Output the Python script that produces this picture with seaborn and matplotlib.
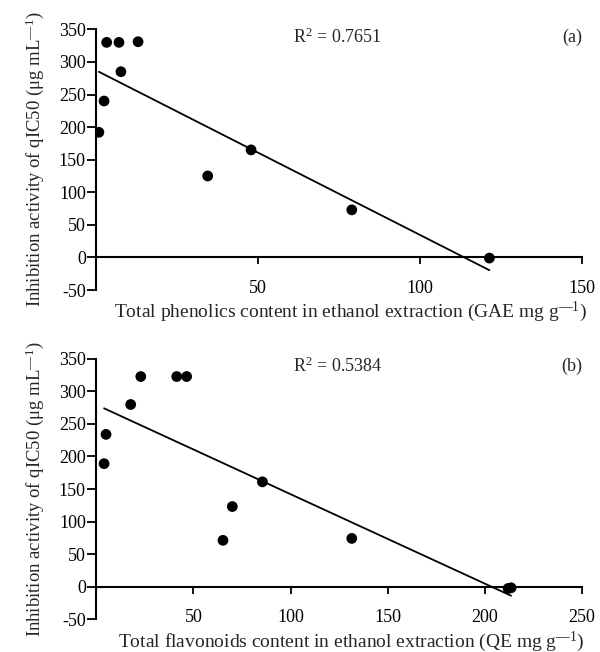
import matplotlib
matplotlib.use("Agg")
import matplotlib.pyplot as plt
import seaborn as sns
import pandas as pd

# ---- data ----
phen_x = [0.8, 2.4, 3.2, 7.0, 7.6, 12.9, 34.4, 47.8, 78.9, 121.4]
phen_y = [192, 240, 330, 330, 285, 331, 125, 165, 73, -1]
flav_x = [4.0, 5.0, 17.7, 22.9, 41.4, 46.5, 65.2, 70.0, 85.5, 131.5, 212.0, 213.5]
flav_y = [189, 234, 280, 323, 323, 323, 71, 123, 161, 74, -3, -2]

y_ticks = [-50, 0, 50, 100, 150, 200, 250, 300, 350]
top_xticks = [50, 100, 150]
bot_xticks = [50, 100, 150, 200, 250]
r2_labels = ["R$^2$ = 0.7651", "R$^2$ = 0.5384"]
panel_labels = ["(a)", "(b)"]
xlabels = ["Total phenolics content in ethanol extraction (GAE mg g$^{\u2014 1}$)",
           "Total flavonoids content in ethanol extraction (QE mg g$^{\u2014 1}$)"]
ylabel = "Inhibition activity of qIC50 (\u03bcg mL$^{\u2014 1}$)"

sns.set_style("ticks")
plt.rcParams["font.family"] = ["Liberation Serif", "DejaVu Serif"]
plt.rcParams["mathtext.fontset"] = "custom"
plt.rcParams["mathtext.rm"] = "Liberation Serif"
plt.rcParams["mathtext.it"] = "Liberation Serif"

fig = plt.figure(figsize=(6, 6.52), dpi=100)
ax1 = fig.add_axes([0.1605, 0.5552, 0.8095, 0.3998])
ax2 = fig.add_axes([0.1605, 0.0506, 0.8095, 0.3988])

panels = [
    (ax1, pd.DataFrame({"x": phen_x, "y": phen_y}), (0, 150), top_xticks),
    (ax2, pd.DataFrame({"x": flav_x, "y": flav_y}), (0, 250), bot_xticks),
]

FS_TICK = 13
FS_LABEL = 13.5

for i, (ax, df, xlim, xt) in enumerate(panels):
    sns.regplot(data=df, x="x", y="y", ax=ax, ci=None, truncate=True,
                scatter_kws=dict(s=60, color="black", alpha=1,
                                 edgecolors="none", zorder=3),
                line_kws=dict(color="black", lw=1.3, zorder=2))
    ax.set_xlim(*xlim)
    ax.set_ylim(-50, 350)
    ax.set_yticks(y_ticks)
    ax.set_yticklabels([str(v) for v in y_ticks])
    ax.set_xticks(xt)
    ax.set_xticklabels([str(v) for v in xt])
    for s in ["top", "right"]:
        ax.spines[s].set_visible(False)
    ax.spines["bottom"].set_position(("data", 0))
    for s in ["left", "bottom"]:
        ax.spines[s].set_linewidth(1.5)
        ax.spines[s].set_color("black")
    ax.tick_params(axis="y", direction="out", length=6.5, width=1.3,
                   labelsize=FS_TICK, pad=1, colors="black")
    ax.tick_params(axis="x", direction="out", length=5, width=1.3,
                   labelsize=FS_TICK, pad=11, colors="black")
    ax.set_xlabel(xlabels[i], fontsize=FS_LABEL + 0.5, labelpad=2.5, x=0.524)
    ax.set_ylabel(ylabel, fontsize=FS_LABEL, labelpad=9)
    ax.text(0.405, 0.97, r2_labels[i], transform=ax.transAxes,
            fontsize=FS_TICK, ha="left", va="center")
    ax.text(1.0, 0.97, panel_labels[i], transform=ax.transAxes,
            fontsize=FS_TICK, ha="right", va="center")

fig.savefig("out.png", dpi=100)
